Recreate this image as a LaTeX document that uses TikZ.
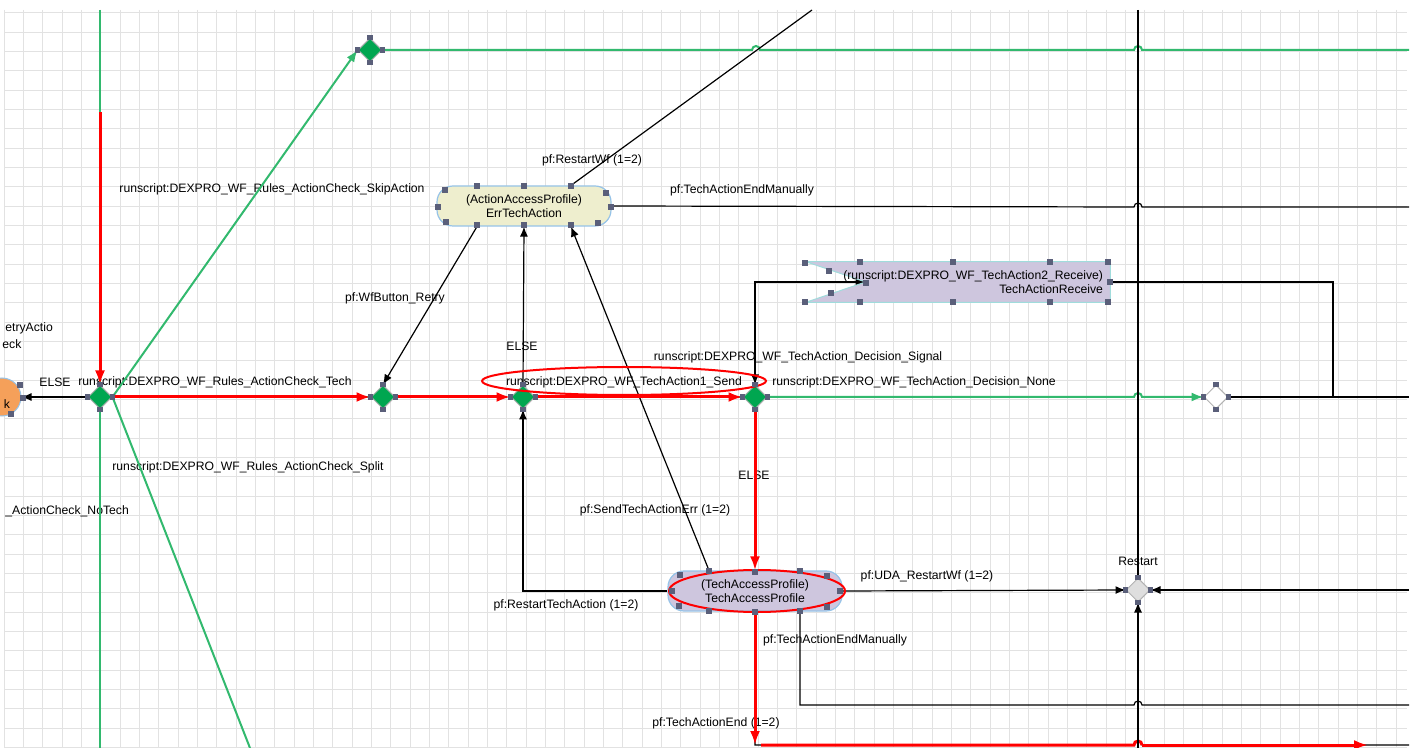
\documentclass[tikz,border=0pt]{standalone}
\usepackage{fontspec}
\setmainfont{Liberation Sans}
\usetikzlibrary{shapes.geometric,arrows.meta,calc}
\pgfdeclarelayer{gridl}\pgfdeclarelayer{labl}\pgfdeclarelayer{nodebg}\pgfdeclarelayer{front}
\pgfsetlayers{gridl,labl,main,nodebg,front}
\definecolor{lgreen}{RGB}{50,185,110}
\definecolor{dgreen}{RGB}{0,166,80}
\definecolor{gridc}{RGB}{226,226,226}
\definecolor{hndc}{RGB}{90,95,122}
\definecolor{beige}{RGB}{238,238,206}
\definecolor{lav}{RGB}{206,198,222}
\definecolor{lblue}{RGB}{150,195,232}
\definecolor{cyanb}{RGB}{160,220,220}
\definecolor{orng}{RGB}{245,160,90}
\definecolor{rsgray}{RGB}{222,222,222}
\newcommand\hnd[1]{\fill[hndc] ([shift={(-2.6,-2.6)}]#1) rectangle ([shift={(2.6,2.6)}]#1);}
\begin{document}
\begin{tikzpicture}[x=0.5pt,y=-0.5pt,
  font=\fontsize{6.1}{7}\selectfont,
  lbl/.style={inner sep=0pt},
  gline/.style={draw=lgreen, line width=1pt},
  rline/.style={draw=red, line width=1.5pt},
  bline/.style={draw=black, line width=0.6pt},
  btip/.style={-{Latex[length=5pt,width=4pt]}},
  gtip/.style={-{Latex[length=6pt,width=4.5pt]}},
  rtip/.style={-{Latex[length=7pt,width=5pt]}},
  gdia/.style={diamond, fill=dgreen, draw=gray!60, line width=0.5pt, minimum width=12pt, minimum height=12pt, inner sep=0pt},
  wdia/.style={gdia, fill=white, draw=gray!60},
  rdia/.style={gdia, fill=rsgray, draw=gray!60},
  pill/.style={rectangle, rounded corners=8pt, minimum width=87pt, minimum height=20pt, draw=lblue, line width=0.6pt, align=center, inner sep=0pt},
  hop/.style={},
]
\useasboundingbox (0,0) rectangle (1413,748);
\begin{pgfonlayer}{gridl}
\fill[white] (0,0) rectangle (1413,748);
\foreach \i in {0,...,72} \draw[gridc, line width=0.5pt] ({4.3+19.33*\i},10) -- ({4.3+19.33*\i},748);
\foreach \j in {0,...,38} \draw[gridc, line width=0.5pt] (5,{13+19.33*\j}) -- (1407,{13+19.33*\j});
\end{pgfonlayer}

% named free ends
\coordinate (gtop) at (100,10);
\coordinate (gbot) at (100,748);
\coordinate (rtop) at (100,112);
\coordinate (gsplit) at (250,748);
\coordinate (eG) at (1409,50);
\coordinate (rwtop) at (812,10);
\coordinate (eB1) at (1409,207);
\coordinate (jn) at (1333,397);
\coordinate (eB2) at (1409,397);
\coordinate (eB3) at (1409,705);
\coordinate (rc) at (755,745);
\coordinate (rc2) at (761,745);
\coordinate (rEnd) at (1368,745);
\coordinate (eB4) at (1409,745);
\coordinate (vtop) at (1138,10);
\coordinate (vbot) at (1138,748);
\coordinate (eB5) at (1409,590);

% nodes
\begin{pgfonlayer}{front}
\node[gdia] (D1) at (100,397) {};
\node[gdia] (D2) at (383,397) {};
\node[gdia] (D3) at (370,50) {};
\node[gdia] (D4) at (523,397) {};
\node[gdia] (D5) at (755,397) {};
\node[wdia] (D6) at (1216,397) {};
\node[rdia] (RS) at (1138,590) {};
\node[circle, fill=orng, draw=lblue, line width=0.5pt, minimum size=19pt, inner sep=0pt] (OC) at (2,397) {};
\node[lbl] (OCt) at (7,404) {k};
\node[pill, fill=beige] (ETA) at (524,206) {(ActionAccessProfile)\\ErrTechAction};
\node[pill, fill=lav] (TAP) at (755,591) {(TechAccessProfile)\\TechAccessProfile};
\node[minimum width=152pt, minimum height=20pt, inner sep=0pt] (TAR) at (958,282) {};
\node[anchor=east, align=right, inner sep=0pt] (TARt) at ([xshift=-3.5pt]TAR.east) {(runscript:DEXPRO\_WF\_TechAction2\_Receive)\\TechActionReceive};
\node[ellipse, draw=red, line width=1pt, minimum width=142pt, minimum height=14pt, inner sep=0pt] (HL1) at (624,381) {};
\node[ellipse, draw=red, line width=1pt, minimum width=88pt, minimum height=21pt, inner sep=0pt] (HL2) at (757,591) {};
\end{pgfonlayer}
\begin{pgfonlayer}{nodebg}
\filldraw[fill=lav, draw=cyanb, line width=0.5pt] (TAR.north west) -- (TAR.north east) -- (TAR.south east) -- (TAR.south west) -- ([xshift=30pt]TAR.west) -- cycle;
\end{pgfonlayer}

% labels
\begin{pgfonlayer}{labl}
\node[lbl, anchor=west] (l0a) at (5,328) {etryActio};
\node[lbl, anchor=west] (l0b) at (2,344) {eck};
\node[lbl] (l1) at (55,382) {ELSE};
\node[lbl] (l2) at (215,382) {runscript:DEXPRO\_WF\_Rules\_ActionCheck\_Tech};
\node[lbl] (l3) at (272,189) {runscript:DEXPRO\_WF\_Rules\_ActionCheck\_SkipAction};
\node[lbl] (l4) at (248,467) {runscript:DEXPRO\_WF\_Rules\_ActionCheck\_Split};
\node[lbl, anchor=west] (l5) at (5,511) {\_ActionCheck\_NoTech};
\node[lbl] (l6) at (592,160) {pf:RestartWf (1=2)};
\node[lbl] (l7) at (742,190) {pf:TechActionEndManually};
\node[lbl] (l8) at (395,298) {pf:WfButton\_Retry};
\node[lbl] (l9) at (522,346) {ELSE};
\node[lbl] (l10) at (624,382) {runscript:DEXPRO\_WF\_TechAction1\_Send};
\node[lbl] (l11) at (798,357) {runscript:DEXPRO\_WF\_TechAction\_Decision\_Signal};
\node[lbl] (l12) at (914,382) {runscript:DEXPRO\_WF\_TechAction\_Decision\_None};
\node[lbl] (l13) at (754,475) {ELSE};
\node[lbl] (l14) at (655,510) {pf:SendTechActionErr (1=2)};
\node[lbl] (l15) at (566,605) {pf:RestartTechAction (1=2)};
\node[lbl] (l16) at (927,576) {pf:UDA\_RestartWf (1=2)};
\node[lbl] (l17) at (1138,561) {Restart};
\node[lbl] (l18) at (835,640) {pf:TechActionEndManually};
\node[lbl] (l19) at (716,723) {pf:TechActionEnd (1=2)};
\end{pgfonlayer}

% connectors
\draw[gline] (gtop) -- (gbot);
\draw[rline, rtip] (rtop) -- (D1.north);
\draw[bline, btip] (D1.west) -- (OC.east);
\draw[gline] (D1.east) -- (D2.west);
\draw[rline, rtip] (D1.east) -- (D2.west);
\draw[gline, gtip] (D1.east) -- (D3.west);
\draw[gline] (D1.east) -- (gsplit);
\draw[gline] (D3.east) -- (752,50) arc[start angle=180, end angle=360, radius=4] -- (1134,50) arc[start angle=180, end angle=360, radius=4] -- (eG);
\draw[bline] ([xshift=23.5pt]ETA.north) -- (rwtop);
\draw[bline] (ETA.east) -- (1134,207) arc[start angle=180, end angle=360, radius=4] -- (eB1);
\draw[bline, btip] ([xshift=-23.5pt]ETA.south) -- (D2.north);
\draw[bline, btip] (D4.north) -- (ETA.south);
\draw[bline, btip] ([xshift=-23pt]TAP.north) -- ([xshift=23.5pt]ETA.south);
\draw[rline, rtip] (D2.east) -- (D4.west);
\draw[gline] (D4.east) -- (D5.west);
\draw[rline, rtip] (D4.east) -- (D5.west);
\draw[bline, {Latex[length=5pt,width=4pt]}-{Latex[length=5pt,width=4pt]}] (D5.north) |- ([xshift=30pt]TAR.west);
\draw[bline] (TAR.east) -| (jn);
\draw[bline] (D6.east) -- (eB2);
\draw[gline, gtip] (D5.east) -- (1134,397) arc[start angle=180, end angle=360, radius=4] -- (D6.west);
\draw[rline, rtip] (D5.south) -- (TAP.north);
\draw[bline, btip] (TAP.west) -| (D4.south);
\draw[bline, btip] (TAP.east) -- (RS.west);
\draw[bline] ([xshift=22.5pt]TAP.south) |- (1134,705) arc[start angle=180, end angle=360, radius=4] -- (eB3);
\draw[bline] (TAP.south) -- (rc) -- (1134,745) arc[start angle=180, end angle=360, radius=4] -- (eB4);
\draw[rline, rtip] (TAP.south) -- (rc);
\draw[rline] (rc2) -- (1134,745) arc[start angle=180, end angle=360, radius=4] -- (1142,745);
\draw[rline, rtip] (1142,745) -- (rEnd);
\draw[bline] (vtop) -- (RS.north);
\draw[bline, btip] (vbot) -- (RS.south);
\draw[bline, btip] (eB5) -- (RS.east);

% handles
\begin{pgfonlayer}{front}
\foreach \n in {D1,D2,D3,D4,D5,D6,RS} {\hnd{\n.north}\hnd{\n.south}\hnd{\n.east}\hnd{\n.west}}
\hnd{20,385}\hnd{23,398}\hnd{11,414}
\hnd{445,190}\hnd{477,186}\hnd{524,186}\hnd{571,186}\hnd{606,193}\hnd{611,207}
\hnd{598,223}\hnd{571,225}\hnd{524,225}\hnd{477,225}\hnd{446,222}\hnd{438,207}
\hnd{680,575}\hnd{709,571}\hnd{755,572}\hnd{800,571}\hnd{827,576}\hnd{840,591}
\hnd{827,607}\hnd{800,611}\hnd{755,612}\hnd{709,611}\hnd{679,606}\hnd{672,591}
\hnd{805,263}\hnd{860,262}\hnd{953,262}\hnd{1050,262}\hnd{1108,262}\hnd{1110,282}
\hnd{1108,302}\hnd{1050,302}\hnd{953,302}\hnd{860,302}\hnd{805,302}
\hnd{829,271}\hnd{831,293}\hnd{866,283}
\end{pgfonlayer}
\end{tikzpicture}
\end{document}
